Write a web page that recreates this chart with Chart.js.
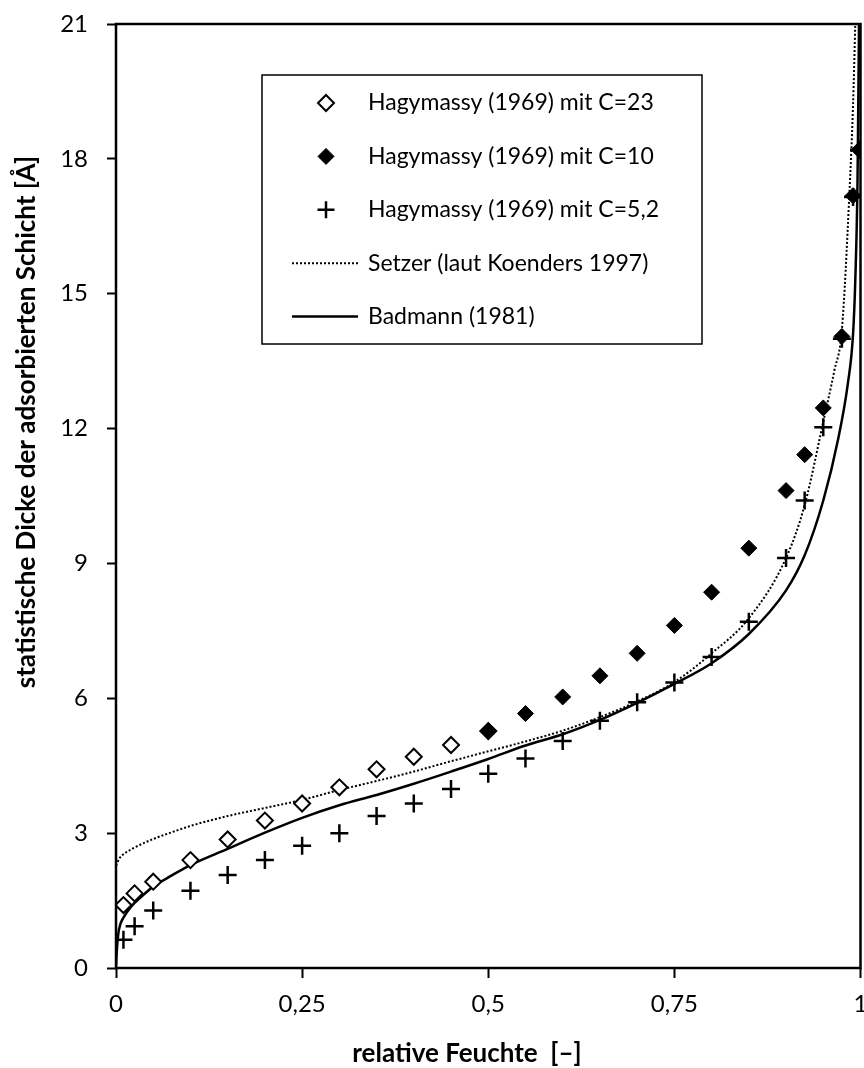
<!DOCTYPE html>
<html lang="de">
<head>
<meta charset="UTF-8">
<title>Statistische Dicke der adsorbierten Schicht</title>
<script src="https://cdn.jsdelivr.net/npm/chart.js"></script>
<style>
    html, body { margin: 0; padding: 0; background: #fff; overflow: hidden; }
    .wrap { width: 872px; height: 1068px; position: relative; }
    canvas { display: block; }
</style>
</head>
<body>
<div class="wrap"><canvas id="chart"></canvas></div>
<script>
    // Hagymassy (1969), C=23
    const rhC23 = [0.01, 0.025, 0.05, 0.1, 0.15, 0.2, 0.25, 0.3, 0.35, 0.4, 0.45, 0.5];
    const tC23  = [1.40, 1.66, 1.92, 2.40, 2.86, 3.28, 3.66, 4.02, 4.42, 4.70, 4.96, 5.27];

    // Hagymassy (1969), C=10
    const rhC10 = [0.5, 0.55, 0.6, 0.65, 0.7, 0.75, 0.8, 0.85, 0.9, 0.925, 0.95, 0.975, 0.99, 0.998];
    const tC10  = [5.28, 5.66, 6.03, 6.50, 7.00, 7.62, 8.36, 9.34, 10.62, 11.42, 12.46, 14.05, 17.18, 18.20];

    // Hagymassy (1969), C=5,2
    const rhC52 = [0.01, 0.025, 0.05, 0.1, 0.15, 0.2, 0.25, 0.3, 0.35, 0.4, 0.45, 0.5, 0.55, 0.6, 0.65, 0.7, 0.75, 0.8, 0.85, 0.9, 0.925, 0.95, 0.975, 0.99, 0.998];
    const tC52  = [0.63, 0.93, 1.28, 1.72, 2.07, 2.40, 2.72, 3.00, 3.38, 3.66, 3.98, 4.32, 4.66, 5.05, 5.50, 5.91, 6.35, 6.92, 7.70, 9.12, 10.40, 12.03, 14.00, 17.15, 18.20];

    // Setzer (laut Koenders 1997)
    const rhSetzer = [0, 0.005, 0.01, 0.025, 0.05, 0.075, 0.1, 0.15, 0.2, 0.25, 0.3, 0.35, 0.4, 0.45, 0.5, 0.55, 0.6, 0.65, 0.7, 0.75, 0.8, 0.85, 0.9, 0.925, 0.95, 0.965, 0.975, 0.985, 0.99, 0.993];
    const tSetzer  = [2.28, 2.45, 2.53, 2.68, 2.87, 3.02, 3.16, 3.38, 3.56, 3.74, 3.96, 4.16, 4.37, 4.60, 4.82, 5.04, 5.28, 5.58, 5.93, 6.36, 7.00, 7.78, 9.12, 10.30, 12.15, 13.30, 14.20, 17.20, 19.20, 21.00];

    // Badmann (1981)
    const rhBadmann = [0, 0.001, 0.003, 0.006, 0.01, 0.02, 0.035, 0.05, 0.075, 0.1, 0.15, 0.2, 0.25, 0.3, 0.35, 0.4, 0.45, 0.5, 0.55, 0.6, 0.65, 0.7, 0.75, 0.8, 0.85, 0.9, 0.925, 0.95, 0.97, 0.983, 0.99, 0.993, 0.996, 0.998];
    const tBadmann  = [0, 0.35, 0.75, 0.98, 1.12, 1.36, 1.60, 1.81, 2.06, 2.29, 2.65, 3.01, 3.34, 3.62, 3.85, 4.10, 4.37, 4.65, 4.95, 5.20, 5.52, 5.90, 6.32, 6.78, 7.43, 8.40, 9.18, 10.40, 11.77, 13.00, 14.10, 15.30, 17.50, 21.00];

    const seriesNames = [
        'Hagymassy (1969) mit C=23',
        'Hagymassy (1969) mit C=10',
        'Hagymassy (1969) mit C=5,2',
        'Setzer (laut Koenders 1997)',
        'Badmann (1981)'
    ];

    const xTicks = [0, 0.25, 0.5, 0.75, 1];
    const xTickLabels = ['0', '0,25', '0,5', '0,75', '1'];
    const yTicks = [0, 3, 6, 9, 12, 15, 18, 21];
    const yTickLabels = ['0', '3', '6', '9', '12', '15', '18', '21'];

    const toPoints = (xs, ys) => xs.map((x, i) => ({ x: x, y: ys[i] }));

    const FONT = 'Lato, "Open Sans", sans-serif';

    // frame around the plot area
    const frame = {
        id: 'frame',
        afterDatasetsDraw(chart) {
            const a = chart.chartArea;
            const ctx = chart.ctx;
            ctx.save();
            ctx.strokeStyle = '#000';
            ctx.lineWidth = 2.5;
            ctx.strokeRect(a.left, a.top, a.right - a.left, a.bottom - a.top);
            ctx.restore();
        }
    };

    function drawMarker(ctx, kind, x, y) {
        ctx.save();
        ctx.strokeStyle = '#000';
        if (kind === 'open' || kind === 'filled') {
            const r = 8;
            ctx.beginPath();
            ctx.moveTo(x - r, y);
            ctx.lineTo(x, y - r);
            ctx.lineTo(x + r, y);
            ctx.lineTo(x, y + r);
            ctx.closePath();
            ctx.fillStyle = kind === 'open' ? '#fff' : '#000';
            ctx.fill();
            ctx.lineWidth = kind === 'open' ? 2 : 1;
            ctx.stroke();
        } else if (kind === 'plus') {
            const r = 8.5;
            ctx.lineWidth = 2.5;
            ctx.beginPath();
            ctx.moveTo(x - r, y);
            ctx.lineTo(x + r, y);
            ctx.moveTo(x, y - r);
            ctx.lineTo(x, y + r);
            ctx.stroke();
        } else {
            ctx.lineWidth = kind === 'dotted' ? 2 : 2.5;
            if (kind === 'dotted') ctx.setLineDash([2, 2]);
            ctx.beginPath();
            ctx.moveTo(x - 34, y);
            ctx.lineTo(x + 32, y);
            ctx.stroke();
        }
        ctx.restore();
    }

    // legend box and axis titles
    const decorations = {
        id: 'decorations',
        afterDraw(chart) {
            const ctx = chart.ctx;
            ctx.save();
            ctx.fillStyle = '#fff';
            ctx.fillRect(262, 75, 440, 269);
            ctx.strokeStyle = '#000';
            ctx.lineWidth = 1.5;
            ctx.strokeRect(262, 75, 440, 269);

            const kinds = ['open', 'filled', 'plus', 'dotted', 'solid'];
            ctx.font = '23px ' + FONT;
            ctx.textBaseline = 'middle';
            ctx.textAlign = 'left';
            kinds.forEach((k, i) => {
                const y = 103 + i * 53.4;
                drawMarker(ctx, k, 326, y);
                ctx.fillStyle = '#000';
                ctx.fillText(seriesNames[i], 368, y);
            });

            ctx.fillStyle = '#000';
            ctx.font = 'bold 26px ' + FONT;
            ctx.textAlign = 'center';
            ctx.fillText('relative Feuchte  [–]', 467, 1054);

            ctx.translate(27, 422);
            ctx.rotate(-Math.PI / 2);
            ctx.fillText('statistische Dicke der adsorbierten Schicht [Å]', 0, 0);
            ctx.restore();
        }
    };

    const scatterStyle = {
        showLine: false,
        borderColor: '#000',
        pointHoverRadius: 8
    };

    new Chart(document.getElementById('chart'), {
        type: 'scatter',
        data: {
            datasets: [
                Object.assign({}, scatterStyle, {
                    label: seriesNames[1],
                    data: toPoints(rhC10, tC10),
                    pointStyle: 'rectRot',
                    pointRadius: 8,
                    backgroundColor: '#000',
                    borderWidth: 1
                }),
                Object.assign({}, scatterStyle, {
                    label: seriesNames[2],
                    data: toPoints(rhC52, tC52),
                    pointStyle: 'cross',
                    pointRadius: 9,
                    borderWidth: 2.5
                }),
                Object.assign({}, scatterStyle, {
                    label: seriesNames[0],
                    data: toPoints(rhC23, tC23),
                    pointStyle: 'rectRot',
                    pointRadius: 8,
                    backgroundColor: '#fff',
                    borderWidth: 2
                }),
                {
                    label: seriesNames[3],
                    data: toPoints(rhSetzer, tSetzer),
                    showLine: true,
                    pointRadius: 0,
                    borderColor: '#000',
                    borderWidth: 2,
                    borderDash: [2, 2],
                    cubicInterpolationMode: 'monotone'
                },
                {
                    label: seriesNames[4],
                    data: toPoints(rhBadmann, tBadmann),
                    showLine: true,
                    pointRadius: 0,
                    borderColor: '#000',
                    borderWidth: 2.5,
                    cubicInterpolationMode: 'monotone'
                }
            ]
        },
        options: {
            responsive: true,
            maintainAspectRatio: false,
            animation: false,
            devicePixelRatio: 1,
            layout: { padding: { top: 24, right: 5, left: 0, bottom: 0 } },
            plugins: {
                legend: { display: false },
                tooltip: { enabled: false }
            },
            scales: {
                x: {
                    type: 'linear',
                    min: 0,
                    max: 1,
                    afterBuildTicks: scale => { scale.ticks = xTicks.map(v => ({ value: v })); },
                    afterFit: scale => {
                        scale.height = 100;
                        scale.paddingLeft = 0;
                        scale.paddingRight = 0;
                    },
                    grid: { drawOnChartArea: false, drawTicks: true, tickLength: 10, tickWidth: 2, tickColor: '#000' },
                    border: { display: false },
                    ticks: {
                        color: '#000',
                        font: { family: FONT, size: 24 },
                        padding: 12,
                        maxRotation: 0,
                        callback: (v, i) => xTickLabels[i]
                    }
                },
                y: {
                    type: 'linear',
                    min: 0,
                    max: 21,
                    afterBuildTicks: scale => { scale.ticks = yTicks.map(v => ({ value: v })); },
                    afterFit: scale => {
                        scale.width = 116;
                        scale.paddingTop = 0;
                        scale.paddingBottom = 0;
                    },
                    grid: { drawOnChartArea: false, drawTicks: true, tickLength: 9, tickWidth: 2, tickColor: '#000' },
                    border: { display: false },
                    ticks: {
                        color: '#000',
                        font: { family: FONT, size: 24 },
                        padding: 19,
                        callback: (v, i) => yTickLabels[i]
                    }
                }
            }
        },
        plugins: [frame, decorations]
    });
</script>
</body>
</html>
